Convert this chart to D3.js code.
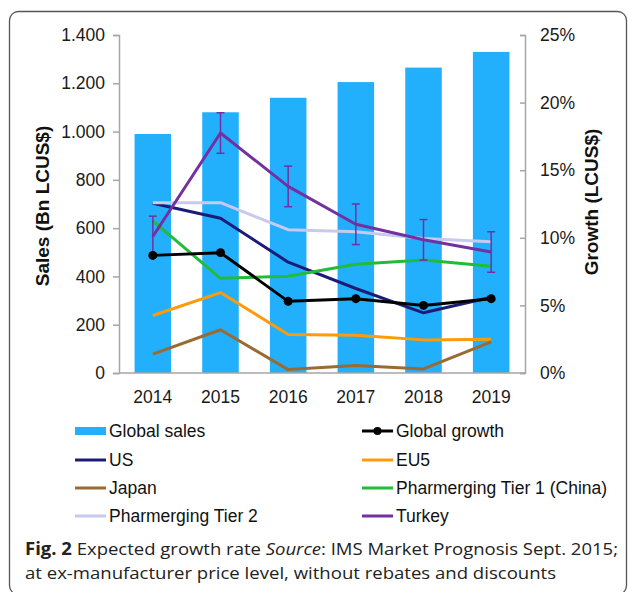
<!DOCTYPE html>
<html><head><meta charset="utf-8">
<script src="https://cdn.jsdelivr.net/npm/d3@7"></script>
<style>
html,body{margin:0;padding:0;background:#fff;}
svg{display:block;}
</style></head>
<body>
<svg id="chart" width="629" height="592"></svg>
<script>
const years = ["2014","2015","2016","2017","2018","2019"];
const globalSales = [990, 1080, 1140, 1205, 1265, 1330];
const globalGrowth = [8.7, 8.9, 5.3, 5.5, 5.0, 5.5];
const usGrowth = [12.55, 11.45, 8.2, 6.25, 4.45, 5.6];
const eu5Growth = [4.25, 5.95, 2.85, 2.8, 2.45, 2.5];
const japanGrowth = [1.4, 3.2, 0.25, 0.55, 0.3, 2.3];
const tier1Growth = [11.25, 7.0, 7.15, 8.05, 8.35, 7.9];
const tier2Growth = [12.6, 12.6, 10.6, 10.45, 9.95, 9.7];
const turkeyGrowth = [10.1, 17.75, 13.8, 11.0, 9.85, 8.95];
const turkeyError = [1.5, 1.5, 1.5, 1.5, 1.5, 1.5];
const salesTicks = [0, 200, 400, 600, 800, 1000, 1200, 1400];
const growthTicks = [0, 5, 10, 15, 20, 25];
const captionBold = "Fig. 2";
const captionLine1 = "Expected growth rate ";
const captionItalic = "Source";
const captionLine1b = ": IMS Market Prognosis Sept. 2015;";
const captionLine2 = "at ex-manufacturer price level, without rebates and discounts";

const colors = {
  sales: "#22b0fd", global: "#000000", us: "#1c1c78", eu5: "#ff9a0a",
  japan: "#9b6a32", tier1: "#22bb3a", tier2: "#c9c9f0", turkey: "#7330a0"
};
const series = [
  {name: "US", values: usGrowth, color: colors.us},
  {name: "EU5", values: eu5Growth, color: colors.eu5},
  {name: "Japan", values: japanGrowth, color: colors.japan},
  {name: "Pharmerging Tier 1 (China)", values: tier1Growth, color: colors.tier1},
  {name: "Pharmerging Tier 2", values: tier2Growth, color: colors.tier2},
  {name: "Turkey", values: turkeyGrowth, color: colors.turkey}
];

const svg = d3.select("#chart");
const font = "'Liberation Sans', Arial, sans-serif";

// frame
svg.append("rect").attr("x", 9.5).attr("y", 11.5).attr("width", 617).attr("height", 583)
  .attr("rx", 9).attr("fill", "none").attr("stroke", "#555").attr("stroke-width", 1.3);

const L = 119, R = 525, T = 35, B = 373;
const x = d3.scaleBand().domain(years).range([L, R]).paddingInner(0.46).paddingOuter(0.23);
const yL = d3.scaleLinear().domain([0, 1400]).range([B, T]);
const yR = d3.scaleLinear().domain([0, 25]).range([B, T]);
const cx = d => x(d) + x.bandwidth() / 2;

// bars
svg.append("g").selectAll("rect").data(years).join("rect")
  .attr("x", d => x(d)).attr("width", x.bandwidth())
  .attr("y", (d, i) => yL(globalSales[i])).attr("height", (d, i) => B - yL(globalSales[i]))
  .attr("fill", colors.sales);

// axes
const axisColor = "#a6a6a6";
const gl = svg.append("g").attr("transform", `translate(${L},0)`)
  .call(d3.axisLeft(yL).tickValues(salesTicks).tickSize(6).tickPadding(8)
    .tickFormat(d => d3.format(",")(d).replace(",", ".")));
const gr = svg.append("g").attr("transform", `translate(${R},0)`)
  .call(d3.axisRight(yR).tickValues(growthTicks).tickSize(-5).tickPadding(15)
    .tickFormat(d => d + "%"));
const gx = svg.append("g").attr("transform", `translate(0,${B})`)
  .call(d3.axisBottom(x).tickSize(0).tickPadding(21));
[gl, gr, gx].forEach(g => {
  g.select(".domain").attr("stroke", axisColor).attr("stroke-width", 1.5);
  g.selectAll(".tick line").attr("stroke", axisColor).attr("stroke-width", 1.5);
  g.selectAll(".tick text").attr("fill", "#1a1a1a").style("font-family", font).style("font-size", "17.5px");
});
gx.select(".domain").attr("d", `M${L},0H${R}`);
gx.selectAll(".tick text").attr("dy", "0.5em");

// axis titles
svg.append("text").attr("transform", `translate(49,${(T + B) / 2 + 2}) rotate(-90)`)
  .attr("text-anchor", "middle").style("font-family", font).style("font-size", "19px")
  .style("font-weight", "bold").attr("fill", "#111").text("Sales (Bn LCUS$)");
svg.append("text").attr("transform", `translate(598,${(T + B) / 2 - 2}) rotate(-90)`)
  .attr("text-anchor", "middle").style("font-family", font).style("font-size", "19px")
  .style("font-weight", "bold").attr("fill", "#111").text("Growth (LCUS$)");

// lines
const line = d3.line().x((d, i) => cx(years[i])).y(d => yR(d));
svg.append("g").selectAll("path").data(series).join("path")
  .attr("d", d => line(d.values)).attr("fill", "none")
  .attr("stroke", d => d.color).attr("stroke-width", 3).attr("stroke-linejoin", "round");

// Turkey error bars
const eg = svg.append("g").attr("stroke", colors.turkey).attr("stroke-width", 1.5);
years.forEach((yr, i) => {
  const top = yR(turkeyGrowth[i] + turkeyError[i]), bot = yR(turkeyGrowth[i] - turkeyError[i]);
  eg.append("line").attr("x1", cx(yr)).attr("x2", cx(yr)).attr("y1", top).attr("y2", bot);
  eg.append("line").attr("x1", cx(yr) - 4).attr("x2", cx(yr) + 4).attr("y1", top).attr("y2", top);
  eg.append("line").attr("x1", cx(yr) - 4).attr("x2", cx(yr) + 4).attr("y1", bot).attr("y2", bot);
});

// global growth
svg.append("path").attr("d", line(globalGrowth)).attr("fill", "none")
  .attr("stroke", colors.global).attr("stroke-width", 3);
svg.append("g").selectAll("circle").data(globalGrowth).join("circle")
  .attr("cx", (d, i) => cx(years[i])).attr("cy", d => yR(d)).attr("r", 4.5).attr("fill", colors.global);

// legend
const legendItems = [
  {name: "Global sales", type: "bar", color: colors.sales},
  {name: "Global growth", type: "marker", color: colors.global},
  ...series.map(s => ({name: s.name, type: "line", color: s.color}))
];
const colX = [75, 362], rowY = [431, 460, 488, 516];
const lg = svg.append("g");
legendItems.forEach((it, k) => {
  const gx0 = colX[k % 2], gy = rowY[Math.floor(k / 2)];
  const g = lg.append("g").attr("transform", `translate(${gx0},${gy})`);
  if (it.type === "bar") {
    g.append("rect").attr("x", 0).attr("y", -4).attr("width", 31).attr("height", 8).attr("fill", it.color);
  } else {
    g.append("line").attr("x1", 0).attr("x2", 31).attr("y1", 0).attr("y2", 0)
      .attr("stroke", it.color).attr("stroke-width", 3);
    if (it.type === "marker") g.append("circle").attr("cx", 15.5).attr("cy", 0).attr("r", 4).attr("fill", it.color);
  }
  g.append("text").attr("x", 34).attr("y", 6).style("font-family", font).style("font-size", "17.5px")
    .attr("fill", "#111").text(it.name);
});

// caption
const capFont = "'Open Sans', 'Noto Sans', sans-serif";
const c1 = svg.append("text").attr("x", 25).attr("y", 555).style("font-family", capFont)
  .style("font-size", "17px").attr("fill", "#222");
c1.append("tspan").style("font-weight", "bold").text(captionBold + "  ");
c1.append("tspan").text(captionLine1);
c1.append("tspan").style("font-style", "italic").text(captionItalic);
c1.append("tspan").text(captionLine1b);
const c2 = svg.append("text").attr("x", 25).attr("y", 579).style("font-family", capFont)
  .style("font-size", "17px").attr("fill", "#222").text(captionLine2);
c1.attr("textLength", 593).attr("lengthAdjust", "spacingAndGlyphs");
c2.attr("textLength", 531).attr("lengthAdjust", "spacingAndGlyphs");
</script>
</body></html>
